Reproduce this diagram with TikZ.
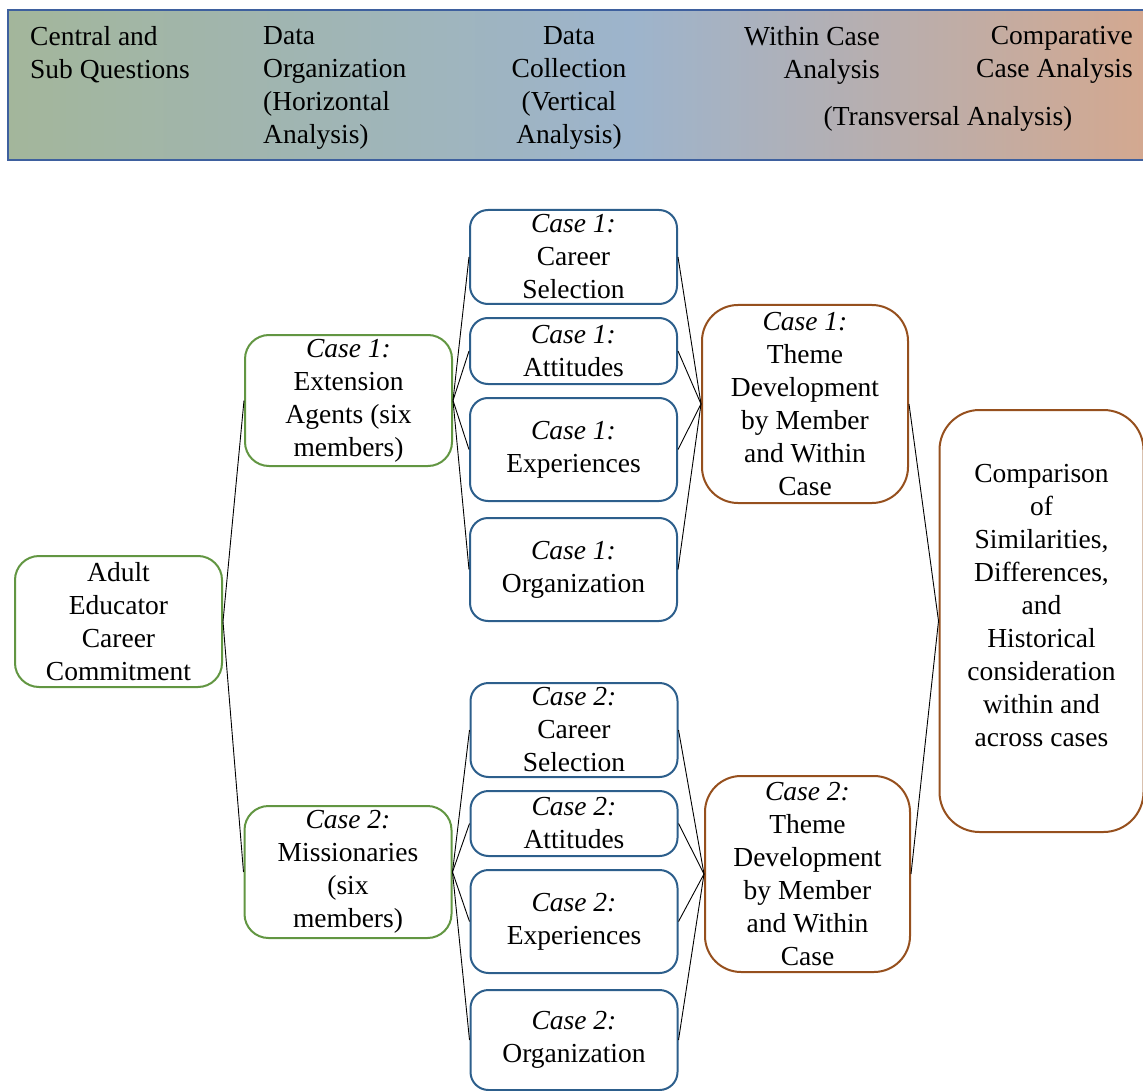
\documentclass[tikz,border=0pt]{standalone}
\usepackage{fontspec}
\setmainfont{Liberation Serif}
\usepackage{xcolor}
\usepackage{tikz}
\usetikzlibrary{positioning}

\definecolor{qgreen}{RGB}{98,150,66}
\definecolor{cblue}{RGB}{45,95,140}
\definecolor{tbrown}{RGB}{150,80,30}
\definecolor{hdline}{RGB}{62,96,158}
\definecolor{hdleft}{RGB}{163,182,155}
\definecolor{hdmid}{RGB}{157,180,204}
\definecolor{hdright}{RGB}{213,168,142}

\pgfdeclarehorizontalshading{headband}{100bp}{color(0bp)=(hdleft); color(25bp)=(hdleft); color(52bp)=(hdmid); color(75bp)=(hdright); color(100bp)=(hdright)}

\begin{document}
\begin{tikzpicture}[
    x=1pt, y=-1pt,
    node distance=12pt,
    box/.style={
        draw, rectangle, line width=2pt, fill=white,
        minimum width=207pt, inner sep=0pt, align=center,
        font=\fontsize{27.5}{33}\selectfont
    },
    question/.style={box, draw=qgreen, rounded corners=24pt},
    collect/.style={box, draw=cblue, rounded corners=18pt},
    theme/.style={box, draw=tbrown, rounded corners=36pt},
    head/.style={inner sep=0pt, font=\fontsize{27.5}{33}\selectfont},
    link/.style={line width=0.9pt, black}
]
\useasboundingbox (0,0) rectangle (1143,1091);

% --- Header band with the five stages
\shadedraw [shading=headband, draw=hdline, line width=2.4pt] (8,10) rectangle (1160,160);
\node (hcq) [head, anchor=north west, align=left]  at (30,26)   {Central and\\Sub Questions};
\node (hdo) [head, anchor=north west, align=left]  at (263,26)  {Data\\Organization\\(Horizontal\\Analysis)};
\node (hdc) [head, anchor=north, align=center]     at (569,26)  {Data\\Collection\\(Vertical\\Analysis)};
\node (hwc) [head, anchor=north east, align=right] at (880,26)  {Within Case\\Analysis};
\node (hcc) [head, anchor=north east, align=right] at (1133,26) {Comparative\\Case Analysis};
\node (htr) [head]                                 at (948,119) {(Transversal Analysis)};

% --- Central question and the two cases
\node (adult)   [question, minimum height=131pt] at (118.5,621.5) {Adult\\Educator\\Career\\Commitment};
\node (agents)  [question, minimum height=131pt] at (348.5,400.5) {\textit{Case 1:}\\Extension\\Agents (six\\members)};
\node (mission) [question, minimum height=132pt] at (348,872)     {\textit{Case 2:}\\Missionaries\\(six\\members)};

% --- Case 1 data collection (top to bottom)
\node (sel1) [collect, minimum height=94pt] at (573.5,257)       {\textit{Case 1:}\\Career\\Selection};
\node (att1) [collect, minimum height=66pt, below=of sel1]       {\textit{Case 1:}\\Attitudes};
\node (exp1) [collect, minimum height=103pt, below=of att1]      {\textit{Case 1:}\\Experiences};
\node (org1) [collect, minimum height=103pt, below=15pt of exp1] {\textit{Case 1:}\\Organization};

% --- Case 2 data collection (top to bottom)
\node (sel2) [collect, minimum height=94pt] at (574,730)         {\textit{Case 2:}\\Career\\Selection};
\node (att2) [collect, minimum height=65pt, below=of sel2]       {\textit{Case 2:}\\Attitudes};
\node (exp2) [collect, minimum height=103pt, below=of att2]      {\textit{Case 2:}\\Experiences};
\node (org2) [collect, minimum height=100pt, below=15pt of exp2] {\textit{Case 2:}\\Organization};

% --- Within case themes
\node (theme1) [theme, minimum width=206pt, minimum height=198pt] at (805,404)
    {\textit{Case 1:}\\Theme\\Development\\by Member\\and Within\\Case};
\node (theme2) [theme, minimum width=205pt, minimum height=196pt] at (807.5,874)
    {\textit{Case 2:}\\Theme\\Development\\by Member\\and Within\\Case};

% --- Comparative case analysis
\node (comp) [theme, rounded corners=40pt, minimum width=204pt, minimum height=422pt] at (1041.5,621)
    {\raisebox{13pt}[\height][\depth]{\begin{tabular}{@{}c@{}}Comparison\\of\\Similarities,\\Differences,\\and\\Historical\\consideration\\within and\\across cases\end{tabular}}};

% --- Question to cases
\draw [link] (adult.east) -- (agents.west);
\draw [link] (adult.east) -- (mission.west);

% --- Case 1 fan out and fan in
\draw [link] (agents.east) -- (sel1.west);
\draw [link] (agents.east) -- (att1.west);
\draw [link] (agents.east) -- (exp1.west);
\draw [link] (agents.east) -- (org1.west);
\draw [link] (sel1.east) -- (theme1.west);
\draw [link] (att1.east) -- (theme1.west);
\draw [link] (exp1.east) -- (theme1.west);
\draw [link] (org1.east) -- (theme1.west);

% --- Case 2 fan out and fan in
\draw [link] (mission.east) -- (sel2.west);
\draw [link] (mission.east) -- (att2.west);
\draw [link] (mission.east) -- (exp2.west);
\draw [link] (mission.east) -- (org2.west);
\draw [link] (sel2.east) -- (theme2.west);
\draw [link] (att2.east) -- (theme2.west);
\draw [link] (exp2.east) -- (theme2.west);
\draw [link] (org2.east) -- (theme2.west);

% --- Themes into the comparison
\draw [link] (theme1.east) -- (comp.west);
\draw [link] (theme2.east) -- (comp.west);

\end{tikzpicture}
\end{document}
